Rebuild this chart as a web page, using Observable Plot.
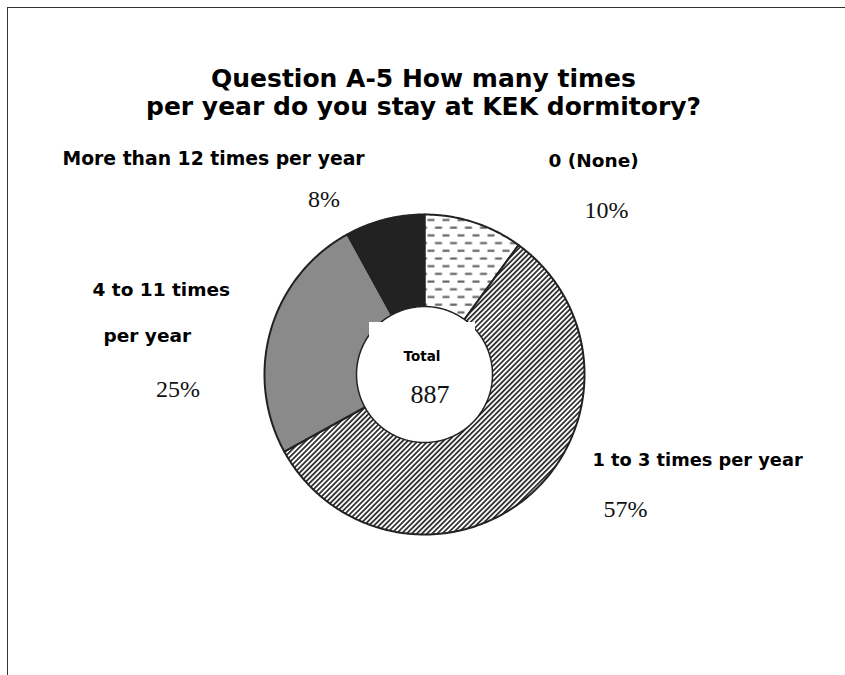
<!DOCTYPE html>
<html><head><meta charset="utf-8">
<script src="https://cdn.jsdelivr.net/npm/d3@7"></script>
<script src="https://cdn.jsdelivr.net/npm/@observablehq/plot@0.6"></script>
<style>
body{margin:0;background:#fff;}
#wrap{position:relative;width:845px;height:675px;overflow:hidden;background:#fff;}
#frame{position:absolute;left:7px;top:7px;width:900px;height:700px;border-top:1.5px solid #333;border-left:1.5px solid #333;}
#chart{position:absolute;left:0;top:0;}
</style></head><body>
<div id="wrap"><div id="frame"></div><div id="chart"></div></div>
<script>
// ---- data ----
const categories = ["0 (None)", "1 to 3 times per year", "4 to 11 times per year", "More than 12 times per year"];
const percents = [10, 57, 25, 8];
const totalLabel = "Total";
const totalCount = 887;
const titleLines = ["Question A-5 How many times", "per year do you stay at KEK dormitory?"];
const categoryLines = [["0 (None)"], ["1 to 3 times per year"], ["4 to 11 times", "per year"], ["More than 12 times per year"]];

// ---- layout (pixels) ----
const CX = 424, CY = 374, R = 160, RI = 68 / 160;
const X = px => (px - CX) / R;
const Y = py => (CY - py) / R;
const fills = ["url(#dashes)", "url(#hatch)", "#8a8a8a", "#222"];
const nameLayout = [
  [{px: 548, py: 161, fs: 18.5}],
  [{px: 592, py: 460, fs: 17.8}],
  [{px: 92, py: 289.5, fs: 18.5}, {px: 103, py: 336, fs: 18.5}],
  [{px: 62, py: 158.5, fs: 18.8}]
];
const pctLayout = [{px: 606, py: 210}, {px: 625, py: 509}, {px: 177.5, py: 388.5}, {px: 323.5, py: 198.5}];
const titleLayout = [{px: 423, py: 78}, {px: 423, py: 106}];

// ---- slices ----
const arcs = d3.pie().sort(null).value(d => d)(percents);
const slicePts = [];
arcs.forEach((a, i) => {
  const n = Math.max(4, Math.ceil((a.endAngle - a.startAngle) / 0.01));
  slicePts.push({cat: categories[i], x: 0, y: 0});
  for (let k = 0; k <= n; k++) {
    const t = a.startAngle + (a.endAngle - a.startAngle) * k / n;
    slicePts.push({cat: categories[i], x: Math.sin(t), y: Math.cos(t)});
  }
  slicePts.push({cat: categories[i], x: 0, y: 0});
});
const holePts = d3.range(0, 361, 2).map(d => ({x: RI * Math.sin(d * Math.PI / 180), y: RI * Math.cos(d * Math.PI / 180)}));

const nameTexts = [];
categoryLines.forEach((lines, i) => lines.forEach((t, j) => nameTexts.push({text: t, ...nameLayout[i][j]})));
const pctTexts = percents.map((p, i) => ({text: `${p}%`, ...pctLayout[i]}));
const titleTexts = titleLines.map((t, i) => ({text: t, ...titleLayout[i]}));

const sans = "DejaVu Sans";
const serif = "Liberation Serif";

const marks = [];
categories.forEach((c, i) => {
  marks.push(Plot.line(slicePts.filter(d => d.cat === c), {x: "x", y: "y", fill: fills[i], stroke: "#222", strokeWidth: 2, strokeLinejoin: "round"}));
});
marks.push(Plot.line(holePts, {x: "x", y: "y", fill: "white", stroke: "#222", strokeWidth: 1.5}));
marks.push(Plot.rect([{x1: X(369), x2: X(475), y1: Y(360), y2: Y(322)}], {x1: "x1", x2: "x2", y1: "y1", y2: "y2", fill: "white"}));
marks.push(Plot.text(titleTexts, {x: d => X(d.px), y: d => Y(d.py), text: "text", textAnchor: "middle", lineAnchor: "middle", fontFamily: sans, fontWeight: "bold", fontSize: 25, fill: "#000"}));
nameTexts.forEach(t => marks.push(Plot.text([t], {x: d => X(d.px), y: d => Y(d.py), text: "text", textAnchor: "start", lineAnchor: "middle", fontFamily: sans, fontWeight: "bold", fontSize: t.fs, fill: "#000"})));
marks.push(Plot.text(pctTexts, {x: d => X(d.px), y: d => Y(d.py), text: "text", textAnchor: "middle", lineAnchor: "middle", fontFamily: serif, fontSize: 24, fill: "#111"}));
marks.push(Plot.text([{text: totalLabel, px: 421.5, py: 356}], {x: d => X(d.px), y: d => Y(d.py), text: "text", textAnchor: "middle", lineAnchor: "middle", fontFamily: sans, fontWeight: "bold", fontSize: 13.5, fill: "#000"}));
marks.push(Plot.text([{text: String(totalCount), px: 429.5, py: 394}], {x: d => X(d.px), y: d => Y(d.py), text: "text", textAnchor: "middle", lineAnchor: "middle", fontFamily: serif, fontSize: 26, fill: "#111"}));

const chart = Plot.plot({
  width: 845, height: 675,
  marginTop: 0, marginRight: 0, marginBottom: 0, marginLeft: 0,
  x: {domain: [-1, 1], range: [CX - R, CX + R], axis: null},
  y: {domain: [-1, 1], range: [CY + R, CY - R], axis: null},
  style: {background: "transparent", overflow: "visible"},
  marks
});

const svg = d3.select(chart);
const defs = svg.insert("defs", ":first-child");
const dp = defs.append("pattern").attr("id", "dashes").attr("patternUnits", "userSpaceOnUse")
  .attr("x", 426).attr("y", 216).attr("width", 15).attr("height", 15.4);
dp.append("rect").attr("width", 15).attr("height", 15.4).attr("fill", "white");
dp.append("line").attr("x1", 1).attr("x2", 8).attr("y1", 3.5).attr("y2", 3.5).attr("stroke", "#666").attr("stroke-width", 2.2);
dp.append("line").attr("x1", 8.5).attr("x2", 15.5).attr("y1", 11.2).attr("y2", 11.2).attr("stroke", "#666").attr("stroke-width", 2.2);
dp.append("line").attr("x1", -0.5).attr("x2", 0.5).attr("y1", 11.2).attr("y2", 11.2).attr("stroke", "#666").attr("stroke-width", 2.2);
const hp = defs.append("pattern").attr("id", "hatch").attr("patternUnits", "userSpaceOnUse")
  .attr("width", 3.6).attr("height", 3.6).attr("patternTransform", "rotate(45)");
hp.append("rect").attr("width", 3.6).attr("height", 3.6).attr("fill", "white");
hp.append("line").attr("x1", 1.8).attr("x2", 1.8).attr("y1", -1).attr("y2", 5).attr("stroke", "#333").attr("stroke-width", 1.8);

document.getElementById("chart").append(chart);
</script>
</body></html>
